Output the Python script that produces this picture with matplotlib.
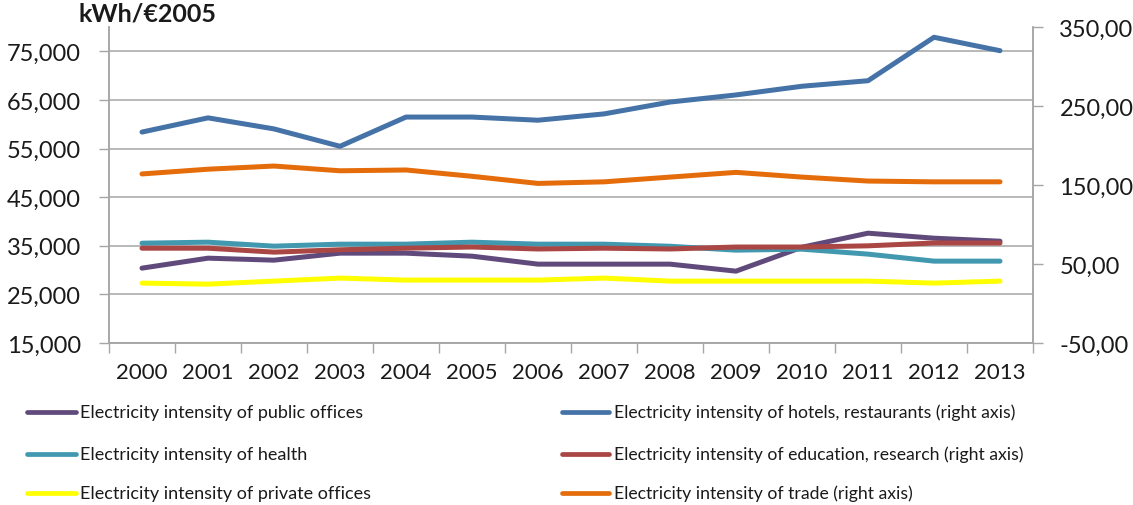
import matplotlib
matplotlib.use("Agg")
import matplotlib.pyplot as plt
from matplotlib.lines import Line2D
from matplotlib.ticker import FixedLocator, FuncFormatter

plt.rcParams['font.family'] = ['Lato', 'DejaVu Sans']

years = [str(y) for y in range(2000, 2014)]

# Left axis series (kWh/€2005)
public_offices = [30400, 32450, 32040, 33480, 33480, 32860, 31220, 31220, 31220, 29780, 34700, 37590, 36560, 35940]
health = [35530, 35740, 34920, 35330, 35330, 35740, 35330, 35330, 34900, 34100, 34300, 33280, 31840, 31840]
private_offices = [27320, 27110, 27730, 28350, 27940, 27940, 27940, 28350, 27730, 27730, 27730, 27730, 27320, 27730]

# Right axis series
hotels = [217, 235, 221, 199, 236, 236, 232, 240, 255, 264, 275, 282, 337, 320]
education = [70, 70, 65, 68, 70, 71.5, 69, 70, 69, 71.5, 71.5, 73, 76.6, 76.6]
trade = [164, 170, 174, 168, 169, 161, 152, 154, 160, 166, 160, 155, 154, 154]

left_ticks = [15000, 25000, 35000, 45000, 55000, 65000, 75000]
right_ticks = [-50, 50, 150, 250, 350]

labels_left = ["Electricity intensity of public offices",
               "Electricity intensity of health",
               "Electricity intensity of private offices"]
labels_right = ["Electricity intensity of hotels, restaurants (right axis)",
                "Electricity intensity of education, research (right axis)",
                "Electricity intensity of trade (right axis)"]

c_purple = "#604A7B"
c_teal = "#4198AF"
c_yellow = "#FFFF00"
c_blue = "#4572A7"
c_red = "#AA4643"
c_orange = "#E46C0A"

W, H = 1133, 506
fig = plt.figure(figsize=(W / 100, H / 100), dpi=100)
ax = fig.add_axes([109 / W, 1 - 344 / H, (1033 - 109) / W, (344 - 28) / H])
ax2 = ax.twinx()

x = list(range(len(years)))
lw = 3.6
grid_c = "#A6A6A6"

ax.plot(x, public_offices, color=c_purple, lw=lw, solid_capstyle='round', zorder=3)
ax.plot(x, health, color=c_teal, lw=lw, solid_capstyle='round', zorder=3)
ax.plot(x, private_offices, color=c_yellow, lw=lw, solid_capstyle='round', zorder=3)
ax2.plot(x, hotels, color=c_blue, lw=lw, solid_capstyle='round')
ax2.plot(x, education, color=c_red, lw=lw, solid_capstyle='round')
ax2.plot(x, trade, color=c_orange, lw=lw, solid_capstyle='round')

ax.set_xlim(-0.5, len(years) - 0.5)
ax.set_ylim(15000, 80000)
ax2.set_ylim(-50, 350)

ax.yaxis.set_major_locator(FixedLocator(left_ticks))
ax.yaxis.set_major_formatter(FuncFormatter(lambda v, p: f"{int(v):,}"))
ax2.yaxis.set_major_locator(FixedLocator(right_ticks))
ax2.yaxis.set_major_formatter(FuncFormatter(lambda v, p: f"{v:.2f}".replace(".", ",")))

ax.set_xticks(x)
ax.set_xticklabels(years)
ax.set_xticks([i - 0.5 for i in range(len(years) + 1)], minor=True)
ax.tick_params(axis='x', which='major', length=0, pad=14, labelsize=16, colors='#1a1a1a')
ax.tick_params(axis='x', which='minor', length=7, width=1, color=grid_c)
ax.tick_params(axis='y', length=7, width=1, color=grid_c, pad=13, labelsize=17, labelcolor='#1a1a1a')
ax2.tick_params(axis='y', length=7, width=1, color=grid_c, pad=12, labelsize=17, labelcolor='#1a1a1a')

ax.grid(axis='y', color=grid_c, lw=1.1)
ax.set_axisbelow(True)

for a in (ax, ax2):
    a.spines['top'].set_visible(False)
    for s in ('left', 'right', 'bottom'):
        a.spines[s].set_color(grid_c)
        a.spines[s].set_linewidth(1.1)

fig.text(78 / W, 1 - 14 / H, "kWh/€2005", fontsize=18, fontweight='bold', va='center', ha='left', color='#1a1a1a')

# Legend
rows_y = [413, 455, 494]
for lab, col, yy in zip(labels_left, [c_purple, c_teal, c_yellow], rows_y):
    fig.add_artist(Line2D([27 / W, 76 / W], [1 - yy / H, 1 - yy / H], color=col, lw=3.4,
                          solid_capstyle='round', transform=fig.transFigure))
    fig.text(80 / W, 1 - yy / H, lab, fontsize=13, va='center', ha='left', color='#1a1a1a')
for lab, col, yy in zip(labels_right, [c_blue, c_red, c_orange], rows_y):
    fig.add_artist(Line2D([562 / W, 609 / W], [1 - yy / H, 1 - yy / H], color=col, lw=3.4,
                          solid_capstyle='round', transform=fig.transFigure))
    fig.text(614 / W, 1 - yy / H, lab, fontsize=12.7, va='center', ha='left', color='#1a1a1a')

fig.savefig("out.png", dpi=100)
